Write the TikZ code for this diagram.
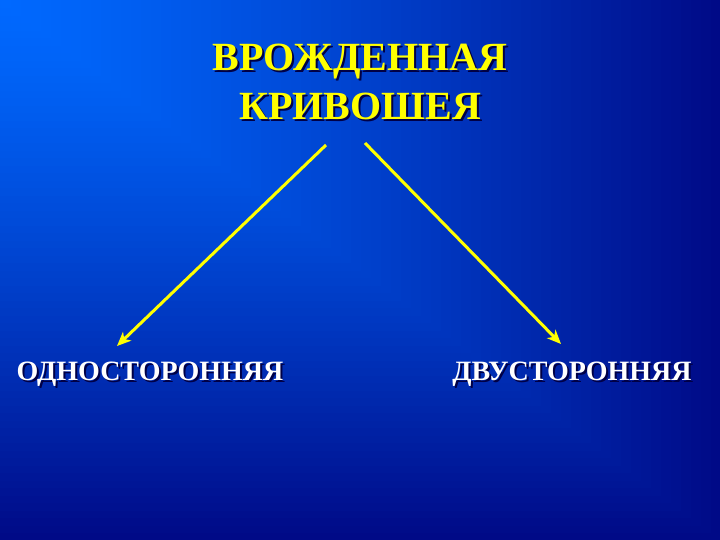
\documentclass[tikz,border=0pt]{standalone}
\usepackage{fontspec}
\setmainfont{Liberation Serif}
\usetikzlibrary{arrows.meta}
\definecolor{ttl}{RGB}{255,255,0}
\definecolor{shd}{RGB}{0,0,70}
\newcommand{\shadowtext}[2]{\makebox[0pt][l]{\hspace{2pt}\raisebox{-2pt}{\color{#1}#2}}#2}
\begin{document}
\begin{tikzpicture}[x=1pt,y=-1pt,
  titletext/.style={font=\fontsize{40}{49}\selectfont\bfseries, align=center, inner sep=0pt, anchor=north},
  labeltext/.style={font=\fontsize{28}{32}\selectfont\bfseries, inner sep=0pt, anchor=base},
  link/.style={draw=ttl, line width=3pt, -{Stealth[length=14pt,width=12pt,inset=4pt]}}]
\useasboundingbox (0,0) rectangle (720,540);
% corner gradient background (from the top-left corner)
\foreach \i in {0,...,71}{
  \pgfmathsetmacro{\t}{1-\i/72}
  \pgfmathtruncatemacro{\gg}{round(105-95*(\t)^1.3)}
  \pgfmathtruncatemacro{\bb}{round(255-120*(\t)^1.3)}
  \definecolor{bgstep}{RGB}{0,\gg,\bb}
  \fill[bgstep] (0,0) rectangle ({720*\t+0.6},{540*\t+0.6});
}
% title
\node[titletext, text=ttl] (title) at (360,44) {\shadowtext{shd}{ВРОЖДЕННАЯ}\\\shadowtext{shd}{КРИВОШЕЯ}};
% labels
\node[labeltext, text=white] (left) at (150,380) {\shadowtext{shd}{ОДНОСТОРОННЯЯ}};
\node[labeltext, text=white] (right) at (572,380) {\shadowtext{shd}{ДВУСТОРОННЯЯ}};
% arrows
\coordinate (s1) at (326,145);
\coordinate (e1) at (117,346);
\coordinate (s2) at (365,143);
\coordinate (e2) at (561,344);
\draw[link] (s1) -- (e1);
\draw[link] (s2) -- (e2);
\end{tikzpicture}
\end{document}
